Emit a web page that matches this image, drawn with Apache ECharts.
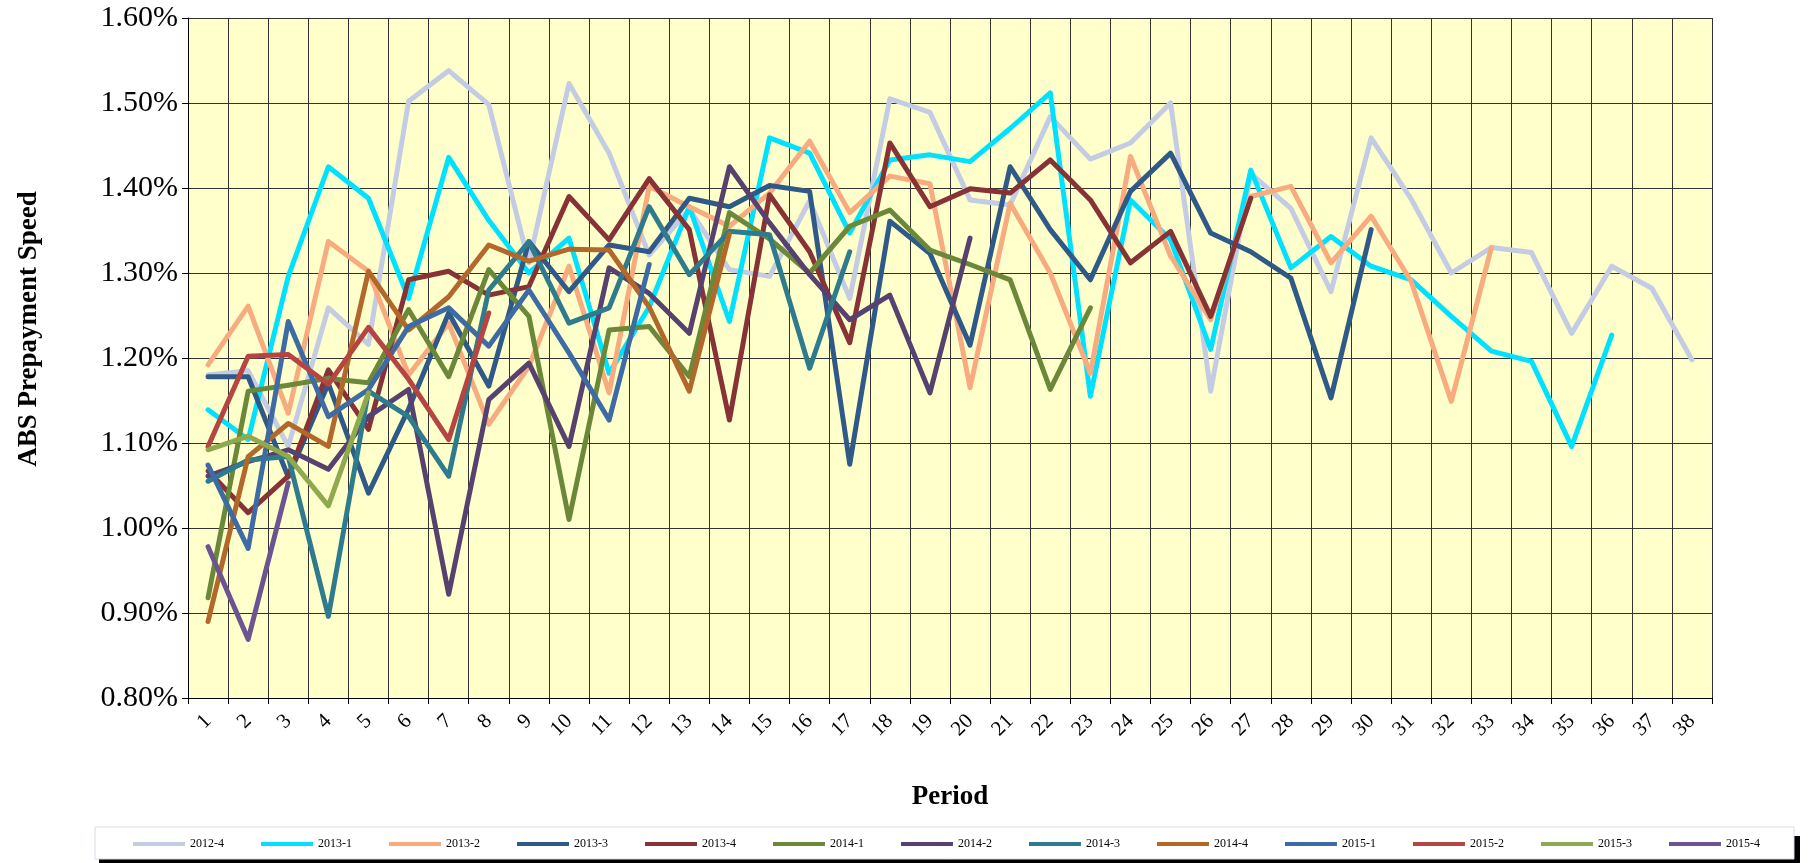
<!DOCTYPE html>
<html><head><meta charset="utf-8">
<script src="https://cdn.jsdelivr.net/npm/echarts@6/dist/echarts.min.js"></script>
<style>html,body{margin:0;padding:0;background:#fff;}#c{width:1811px;height:863px;}</style>
</head><body><div id="c"></div>
<script>
const categories = ['1','2','3','4','5','6','7','8','9','10','11','12','13','14','15','16','17','18','19','20','21','22','23','24','25','26','27','28','29','30','31','32','33','34','35','36','37','38'];
const yTicks = [0.8, 0.9, 1.0, 1.1, 1.2, 1.3, 1.4, 1.5, 1.6];

const s2012_4 = [1.180,1.185,1.096,1.259,1.216,1.502,1.538,1.498,1.312,1.523,1.441,1.321,1.375,1.304,1.296,1.385,1.270,1.505,1.489,1.386,1.380,1.484,1.434,1.453,1.500,1.161,1.417,1.376,1.278,1.459,1.387,1.300,1.330,1.324,1.229,1.308,1.282,1.198];
const s2013_1 = [1.139,1.104,1.296,1.425,1.388,1.270,1.436,1.362,1.300,1.341,1.182,1.260,1.378,1.243,1.459,1.441,1.347,1.433,1.439,1.431,1.470,1.512,1.155,1.386,1.339,1.210,1.421,1.306,1.343,1.308,1.292,1.249,1.208,1.196,1.096,1.227];
const s2013_2 = [1.192,1.261,1.135,1.337,1.302,1.180,1.241,1.122,1.190,1.308,1.159,1.402,1.378,1.355,1.394,1.455,1.371,1.414,1.405,1.165,1.382,1.300,1.182,1.437,1.320,1.245,1.390,1.402,1.312,1.367,1.290,1.149,1.330];
const s2013_3 = [1.178,1.178,1.060,1.170,1.041,1.140,1.253,1.167,1.337,1.278,1.333,1.325,1.388,1.378,1.403,1.396,1.075,1.361,1.323,1.215,1.425,1.351,1.292,1.396,1.441,1.347,1.325,1.294,1.153,1.351];
const s2013_4 = [1.067,1.018,1.061,1.186,1.116,1.292,1.302,1.274,1.284,1.390,1.339,1.411,1.351,1.127,1.392,1.325,1.218,1.453,1.378,1.399,1.394,1.433,1.386,1.312,1.349,1.249,1.388];
const s2014_1 = [0.918,1.161,1.168,1.176,1.171,1.257,1.178,1.304,1.249,1.010,1.233,1.237,1.178,1.371,1.340,1.300,1.355,1.374,1.327,1.310,1.292,1.163,1.259];
const s2014_2 = [1.061,1.078,1.092,1.069,1.131,1.163,0.922,1.151,1.194,1.096,1.306,1.276,1.229,1.425,1.359,1.298,1.245,1.274,1.159,1.341];
const s2014_3 = [1.055,1.080,1.084,0.896,1.161,1.131,1.061,1.280,1.337,1.241,1.259,1.378,1.298,1.349,1.345,1.188,1.325];
const s2014_4 = [0.890,1.084,1.123,1.096,1.302,1.233,1.272,1.333,1.314,1.328,1.327,1.260,1.161,1.346];
const s2015_1 = [1.074,0.976,1.243,1.131,1.163,1.237,1.259,1.214,1.280,1.206,1.127,1.310];
const s2015_2 = [1.096,1.202,1.204,1.169,1.236,1.175,1.104,1.253];
const s2015_3 = [1.092,1.108,1.084,1.026,1.159];
const s2015_4 = [0.978,0.869,1.053];

const seriesNames = ['2012-4','2013-1','2013-2','2013-3','2013-4','2014-1','2014-2','2014-3','2014-4','2015-1','2015-2','2015-3','2015-4'];
const seriesData = [s2012_4,s2013_1,s2013_2,s2013_3,s2013_4,s2014_1,s2014_2,s2014_3,s2014_4,s2015_1,s2015_2,s2015_3,s2015_4];
const colors = ['#C3CCE2','#00E1FF','#F8AB7F','#2F5987','#873235','#6B8839','#56416F','#2E7B8D','#B2682A','#3E6BA3','#B54543','#8EA94E','#6C5491'];

const chart = echarts.init(document.getElementById('c'), null, {renderer:'canvas'});
const font = '"Liberation Serif","Times New Roman",serif';
chart.setOption({
  animation: false,
  backgroundColor: '#ffffff',
  color: colors,
  textStyle: {fontFamily: font, color: '#000'},
  grid: {left: 188, right: 99, top: 18, bottom: 165, show: true, backgroundColor: '#FFFFCC', borderWidth: 0},
  graphic: [
    {type: 'rect', z: 0, silent: true, shape: {x: 99, y: 836, width: 1701, height: 30}, style: {fill: '#000'}},
    {type: 'rect', z: 1, silent: true, shape: {x: 95, y: 827, width: 1699, height: 32}, style: {fill: '#fff', stroke: '#D5DCEA', lineWidth: 1}},
    {type: 'text', z: 5, silent: true, x: 29, y: 329, rotation: Math.PI / 2,
      style: {text: 'ABS Prepayment Speed', fontFamily: font, fontSize: 27, fontWeight: 'bold', fill: '#000', align: 'center', verticalAlign: 'middle'}}
  ],
  legend: {
    data: seriesNames, z: 10,
    left: 95, top: 828, width: 1701,
    padding: [10, 20, 10, 38],
    itemWidth: 52, itemHeight: 4, itemGap: 37,
    icon: 'rect',
    textStyle: {fontFamily: font, fontSize: 12, color: '#000'}
  },
  xAxis: {
    type: 'category', data: categories, boundaryGap: true,
    name: 'Period', nameLocation: 'middle', nameGap: 86,
    nameTextStyle: {fontFamily: font, fontSize: 27, fontWeight: 'bold', color: '#000'},
    axisLine: {show: true, lineStyle: {color: '#000', width: 1}},
    axisTick: {show: true, length: 6, lineStyle: {color: '#000'}},
    axisLabel: {rotate: 45, fontFamily: font, fontSize: 21, color: '#000', margin: 20},
    splitLine: {show: true, lineStyle: {color: '#333', width: 1}}
  },
  yAxis: {
    type: 'value', min: 0.8, max: 1.6, interval: 0.1,
    axisLine: {show: true, lineStyle: {color: '#000', width: 1}},
    axisTick: {show: true, length: 6, lineStyle: {color: '#000'}},
    axisLabel: {fontFamily: font, fontSize: 30, color: '#000', margin: 10,
      formatter: v => v.toFixed(2) + '%'},
    splitLine: {show: true, lineStyle: {color: '#333', width: 1}}
  },
  series: seriesNames.map((n, i) => ({
    name: n, type: 'line', data: seriesData[i], showSymbol: false, symbol: 'none',
    lineStyle: {width: 5, color: colors[i], cap: 'round', join: 'round'},
    itemStyle: {color: colors[i]}
  }))
});
</script></body></html>
